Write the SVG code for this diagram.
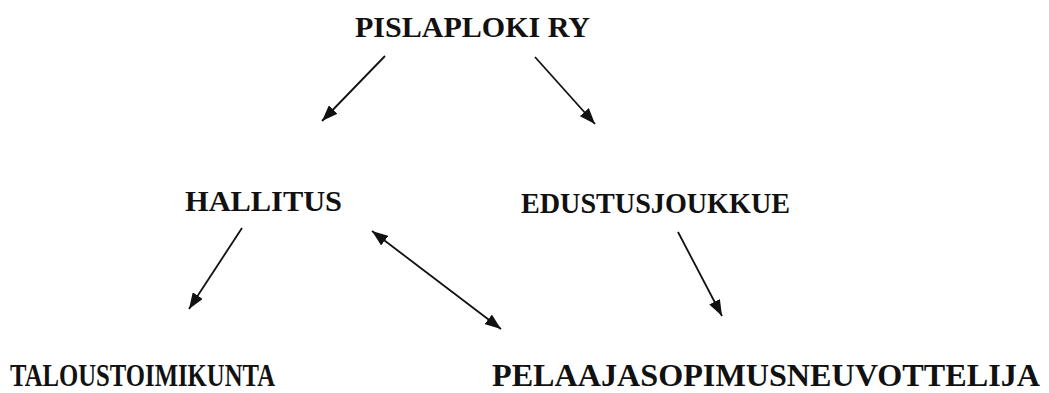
<svg xmlns="http://www.w3.org/2000/svg" width="1049" height="393" viewBox="0 0 1049 393">
<style>
.t{font-family:"Liberation Serif","Times New Roman",serif;font-weight:bold;font-size:29px;fill:#111}
.b{font-size:31px}
.c{stroke:#111;stroke-width:1.8;fill:none}
</style>
<defs>
<marker id="ah2" viewBox="0 0 16 12" refX="16" refY="6" markerWidth="16" markerHeight="12" markerUnits="userSpaceOnUse" orient="auto-start-reverse"><path d="M0,0 L16,6 L0,12 z" fill="#111"/></marker>
</defs>
<rect width="1049" height="393" fill="#fff"/>
<g id="n-pislaploki"><text class="t" x="355" y="37" textLength="235" lengthAdjust="spacingAndGlyphs">PISLAPLOKI RY</text></g>
<g id="n-hallitus"><text class="t" x="185" y="211" textLength="157" lengthAdjust="spacingAndGlyphs">HALLITUS</text></g>
<g id="n-edustus"><text class="t" x="521" y="213" textLength="269" lengthAdjust="spacingAndGlyphs">EDUSTUSJOUKKUE</text></g>
<g id="n-talous"><text class="t b" x="10" y="386" textLength="265" lengthAdjust="spacingAndGlyphs">TALOUSTOIMIKUNTA</text></g>
<g id="n-pelaaja"><text class="t b" x="492" y="386" textLength="548" lengthAdjust="spacingAndGlyphs">PELAAJASOPIMUSNEUVOTTELIJA</text></g>
<g id="connectors">
<line class="c" x1="385" y1="56" x2="322" y2="121" marker-end="url(#ah2)"/>
<line class="c" x1="535" y1="57" x2="595" y2="124" marker-end="url(#ah2)"/>
<line class="c" x1="242" y1="228" x2="189" y2="309" marker-end="url(#ah2)"/>
<line class="c" x1="372" y1="231" x2="501" y2="329" marker-start="url(#ah2)" marker-end="url(#ah2)"/>
<line class="c" x1="678" y1="232" x2="722" y2="316" marker-end="url(#ah2)"/>
</g>
</svg>
